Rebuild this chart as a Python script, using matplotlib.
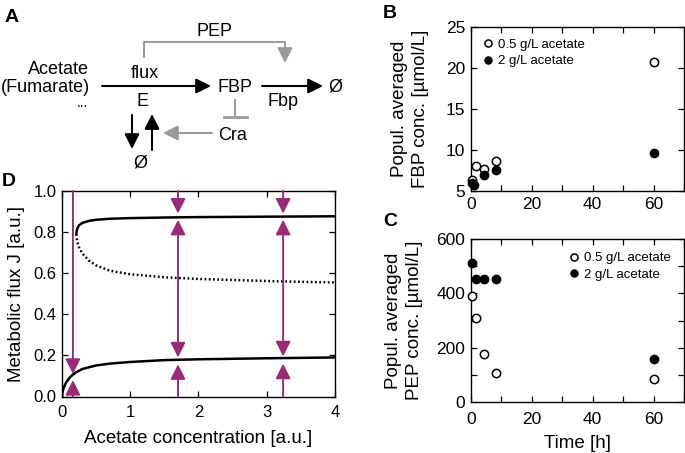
import matplotlib
matplotlib.use("Agg")
import matplotlib.pyplot as plt
from matplotlib.ticker import MultipleLocator, FormatStrFormatter

plt.rcParams['font.family'] = ['Liberation Sans', 'DejaVu Sans']

# ---------------- data ----------------
# Panel B: FBP concentration
time_b_low = [0.3, 1.6, 4.4, 8.3, 60]
fbp_low = [6.3, 8.1, 7.7, 8.6, 20.7]
time_b_high = [0.3, 1.1, 4.4, 8.3, 60]
fbp_high = [6.0, 5.7, 7.0, 7.5, 9.6]

# Panel C: PEP concentration
time_c = [0.4, 1.6, 4.3, 8.2, 60]
pep_low = [391, 310, 176, 108, 84]
pep_high = [510, 452, 452, 452, 160]

legend_labels = ["0.5 g/L acetate", "2 g/L acetate"]

# Panel D: bifurcation diagram
lower_x = [0, 0.01, 0.03, 0.06, 0.1, 0.15, 0.2, 0.3, 0.5, 0.7, 1.0, 1.5, 2.0, 3.0, 4.0]
lower_y = [0, 0.025, 0.047, 0.068, 0.087, 0.104, 0.117, 0.134, 0.151, 0.16, 0.168, 0.177, 0.181, 0.186, 0.19]
upper_x = [0.21, 0.215, 0.225, 0.25, 0.3, 0.4, 0.5, 0.7, 1.0, 1.5, 2.0, 2.5, 3.0, 3.5, 4.0]
upper_y = [0.79, 0.805, 0.818, 0.833, 0.845, 0.855, 0.86, 0.865, 0.868, 0.871, 0.873, 0.874, 0.875, 0.876, 0.877]
unstable_x = [0.21, 0.215, 0.225, 0.25, 0.3, 0.4, 0.5, 0.7, 1.0, 1.5, 2.0, 2.5, 3.0, 3.5, 4.0]
unstable_y = [0.79, 0.772, 0.752, 0.725, 0.695, 0.66, 0.638, 0.612, 0.595, 0.58, 0.572, 0.567, 0.562, 0.558, 0.555]

arrow_x = [0.16, 1.70, 3.24]
arrow_down_tip = [0.11, 0.89, 0.89]      # arrows from the top
arrow_up_tip = [0.08, 0.157, 0.16]        # arrows from the bottom
arrow_mid_top = [None, 0.86, 0.86]        # double arrows between branches
arrow_mid_bottom = [None, 0.19, 0.195]

MAG = '#9a2a78'
GRAY = '#9a9a9a'
TICK_FS = 12.5
LAB_FS = 13.5

fig = plt.figure(figsize=(6.85, 4.53), dpi=100)
W, H = 685.0, 453.0

def frame(l, t, r, b):
    return [l / W, 1 - b / H, (r - l) / W, (b - t) / H]

def style(ax, fs=TICK_FS, xpad=5):
    ax.tick_params(which='both', direction='in', top=True, right=True,
                   length=4, width=0.9, labelsize=fs, pad=4)
    ax.tick_params(axis='x', which='both', pad=xpad)
    for s in ax.spines.values():
        s.set_linewidth(1.0)

# ---------------- panel D ----------------
axd = fig.add_axes(frame(62, 191, 335, 396.5))
axd.plot(lower_x, lower_y, color='k', lw=1.8, solid_capstyle='round')
axd.plot(upper_x, upper_y, color='k', lw=1.8, solid_capstyle='round')
axd.plot(unstable_x, unstable_y, color='k', lw=1.8, linestyle=(0, (0.7, 1.0)))
ap = dict(arrowstyle='-|>,head_length=0.9,head_width=0.45', color=MAG, lw=1.4,
          shrinkA=0, shrinkB=0, mutation_scale=10)
ap2 = dict(ap, arrowstyle='<|-|>,head_length=0.9,head_width=0.45')
for i, x in enumerate(arrow_x):
    axd.annotate('', xy=(x, arrow_down_tip[i]), xytext=(x, 1.0), arrowprops=ap,
                 annotation_clip=False)
    axd.annotate('', xy=(x, arrow_up_tip[i]), xytext=(x, 0.0), arrowprops=ap,
                 annotation_clip=False)
    if arrow_mid_top[i] is not None:
        axd.annotate('', xy=(x, arrow_mid_top[i]), xytext=(x, arrow_mid_bottom[i]),
                     arrowprops=ap2)
axd.set_xlim(0, 4)
axd.set_ylim(0, 1)
axd.xaxis.set_major_locator(MultipleLocator(1))
axd.yaxis.set_major_locator(MultipleLocator(0.2))
axd.yaxis.set_major_formatter(FormatStrFormatter('%.1f'))
style(axd, 12, xpad=6)
axd.set_xlabel('Acetate concentration [a.u.]', fontsize=LAB_FS, labelpad=7)
axd.set_ylabel('Metabolic flux J [a.u.]', fontsize=LAB_FS, labelpad=6)

# ---------------- panel B ----------------
axb = fig.add_axes(frame(471, 27, 684, 191))
axb.plot(time_b_low, fbp_low, 'o', mfc='white', mec='k', mew=1.1, ms=6,
         label=legend_labels[0], clip_on=False, zorder=3)
axb.plot(time_b_high, fbp_high, 'o', mfc='k', mec='k', ms=6,
         label=legend_labels[1], clip_on=False, zorder=3)
axb.set_xlim(0, 70)
axb.set_ylim(5, 25)
axb.xaxis.set_major_locator(MultipleLocator(20))
axb.xaxis.set_minor_locator(MultipleLocator(10))
axb.yaxis.set_major_locator(MultipleLocator(5))
style(axb, xpad=4)
axb.set_ylabel('Popul. averaged\nFBP conc. [µmol/L]', fontsize=LAB_FS, labelpad=12,
               linespacing=1.3)
axb.legend(loc='upper left', bbox_to_anchor=(0.0, 1.0), frameon=False, fontsize=9.5,
           handlelength=0.8, handletextpad=0.35, labelspacing=0.3, borderpad=0.6,
           borderaxespad=0.3, markerscale=0.85)

# ---------------- panel C ----------------
axc = fig.add_axes(frame(471, 239, 684, 402))
axc.plot(time_c, pep_low, 'o', mfc='white', mec='k', mew=1.1, ms=6,
         label=legend_labels[0], clip_on=False, zorder=3)
axc.plot(time_c, pep_high, 'o', mfc='k', mec='k', ms=6,
         label=legend_labels[1], clip_on=False, zorder=3)
axc.set_xlim(0, 70)
axc.set_ylim(0, 600)
axc.xaxis.set_major_locator(MultipleLocator(20))
axc.xaxis.set_minor_locator(MultipleLocator(10))
axc.yaxis.set_major_locator(MultipleLocator(200))
axc.yaxis.set_minor_locator(MultipleLocator(100))
style(axc, xpad=7)
axc.set_xlabel('Time [h]', fontsize=LAB_FS, labelpad=6)
axc.set_ylabel('Popul. averaged\nPEP conc. [µmol/L]', fontsize=LAB_FS, labelpad=10,
               linespacing=1.3)
axc.legend(loc='upper right', bbox_to_anchor=(1.0, 1.0), frameon=False, fontsize=9.5,
           handlelength=0.8, handletextpad=0.35, labelspacing=0.3, borderpad=0.6,
           borderaxespad=0.4, markerscale=0.85)

# ---------------- panel A (diagram) and labels ----------------
ov = fig.add_axes([0, 0, 1, 1])
ov.set_xlim(0, W)
ov.set_ylim(H, 0)
ov.axis('off')
ov.patch.set_visible(False)

fs = 13
ov.text(5, 18, 'A', fontsize=14, fontweight='bold', va='center', ha='left')
ov.text(383, 14, 'B', fontsize=14, fontweight='bold', va='center', ha='left')
ov.text(383, 222, 'C', fontsize=14, fontweight='bold', va='center', ha='left')
ov.text(2, 181, 'D', fontsize=14, fontweight='bold', va='center', ha='left')

ov.text(89, 69, 'Acetate', fontsize=fs, ha='right', va='center')
ov.text(90, 87, '(Fumarate)', fontsize=fs, ha='right', va='center')
ov.text(88, 103, '...', fontsize=10, ha='right', va='center')
ov.text(145, 73, 'flux', fontsize=fs, ha='center', va='center')
ov.text(143, 102, 'E', fontsize=fs, ha='center', va='center')
ov.text(235, 87, 'FBP', fontsize=fs, ha='center', va='center')
ov.text(283, 101, 'Fbp', fontsize=fs, ha='center', va='center')
ov.text(335, 87, 'Ø', fontsize=fs, ha='center', va='center')
ov.text(215, 32, 'PEP', fontsize=fs, ha='center', va='center')
ov.text(233, 135, 'Cra', fontsize=fs, ha='center', va='center')
ov.text(140, 163, 'Ø', fontsize=fs, ha='center', va='center')

bk = dict(arrowstyle='-|>,head_length=0.9,head_width=0.45', color='k', lw=1.5,
          shrinkA=0, shrinkB=0, mutation_scale=10)
gy = dict(bk, color=GRAY)
ov.annotate('', xy=(211, 86), xytext=(102, 86), arrowprops=bk)
ov.annotate('', xy=(323, 86), xytext=(262, 86), arrowprops=bk)
ov.annotate('', xy=(132, 149), xytext=(132, 115), arrowprops=bk)
ov.annotate('', xy=(152, 114), xytext=(152, 150), arrowprops=bk)
# PEP activation bracket
ov.plot([144, 144, 285, 285], [57, 42, 42, 50], color=GRAY, lw=1.4,
        solid_joinstyle='miter')
ov.annotate('', xy=(285, 63), xytext=(285, 49), arrowprops=gy)
# FBP -| Cra
ov.plot([235, 235], [100, 117], color=GRAY, lw=1.5)
ov.plot([224, 247], [117, 117], color=GRAY, lw=2.0)
# Cra -> E
ov.annotate('', xy=(163, 133), xytext=(212, 133), arrowprops=gy)

fig.savefig('out.png', dpi=100)
